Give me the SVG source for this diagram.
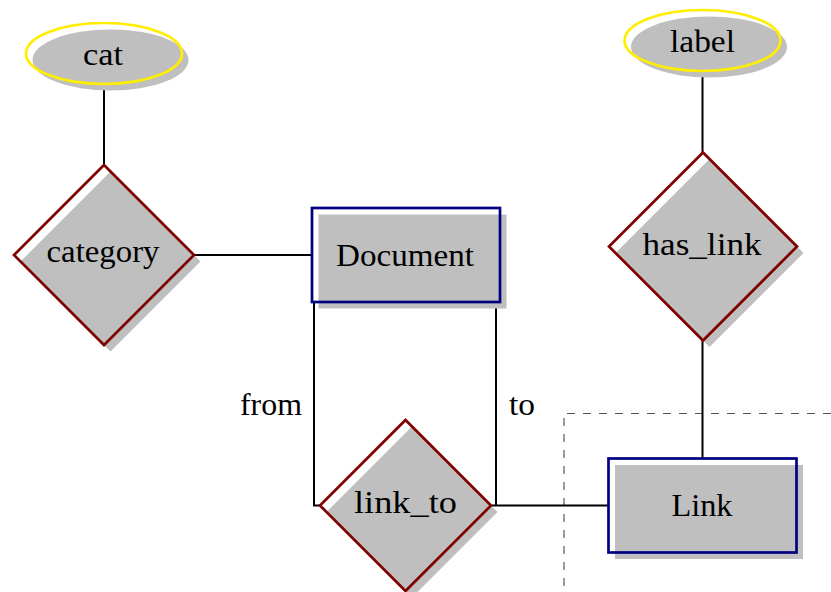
<svg xmlns="http://www.w3.org/2000/svg" width="831" height="592" viewBox="0 0 831 592">
  <style>
    .shadow { fill: #bfbfbf; stroke: none; }
    .attr { fill: none; stroke: #ffee00; stroke-width: 2.7; }
    .rel { fill: none; stroke: #800000; stroke-width: 2.7; stroke-linejoin: miter; }
    .ent { fill: none; stroke: #000080; stroke-width: 2.7; }
    .edge { fill: none; stroke: #000000; stroke-width: 2; }
    .frame { fill: none; stroke: #555555; stroke-width: 1.2; stroke-dasharray: 8 8; }
    text { font-family: "Liberation Serif", "Times New Roman", serif; font-size: 32px; fill: #000000; }
    .c { text-anchor: middle; }
  </style>
  <rect width="831" height="592" fill="#ffffff"/>

  <!-- dashed boundary around the Link entity -->
  <g id="boundary">
    <path class="frame" d="M564 413.5 H840" stroke-dashoffset="13"/>
    <path class="frame" d="M564 413.5 V600" stroke-dashoffset="11.5"/>
  </g>

  <!-- connectors -->
  <g id="edges">
    <line class="edge" x1="104" y1="84" x2="104" y2="165"/>
    <line class="edge" x1="194" y1="255" x2="312" y2="255"/>
    <line class="edge" x1="702.5" y1="71" x2="702.5" y2="153"/>
    <line class="edge" x1="702.5" y1="340" x2="702.5" y2="459"/>
    <polyline class="edge" points="314,302 314,505.5 320,505.5"/>
    <polyline class="edge" points="496,302 496,505.5"/>
    <line class="edge" x1="491" y1="505.5" x2="608.5" y2="505.5"/>
    <text x="271" y="415" class="c" textLength="62" lengthAdjust="spacingAndGlyphs">from</text>
    <text x="522" y="415" class="c" textLength="26" lengthAdjust="spacingAndGlyphs">to</text>
  </g>

  <!-- attribute: cat -->
  <g id="cat">
    <ellipse class="shadow" cx="110.5" cy="60" rx="78" ry="30.5"/>
    <ellipse class="attr" cx="104" cy="53.5" rx="78" ry="30.5"/>
    <text x="103" y="64.5" class="c" textLength="40" lengthAdjust="spacingAndGlyphs">cat</text>
  </g>

  <!-- relationship: category -->
  <g id="category">
    <polygon class="shadow" points="110.5,171.5 200.5,261.5 110.5,351.5 20.5,261.5"/>
    <polygon class="rel" points="104,165 194,255 104,345 14,255"/>
    <text x="103" y="262" class="c" textLength="113" lengthAdjust="spacingAndGlyphs">category</text>
  </g>

  <!-- entity: Document -->
  <g id="document">
    <rect class="shadow" x="318.5" y="214.5" width="188" height="94"/>
    <rect class="ent" x="312" y="208" width="188" height="94"/>
    <text x="405" y="266" class="c" textLength="138" lengthAdjust="spacingAndGlyphs">Document</text>
  </g>

  <!-- relationship: link_to -->
  <g id="link_to">
    <polygon class="shadow" points="412,426.5 497.5,512 412,597.5 326.5,512"/>
    <polygon class="rel" points="405.5,420 491,505.5 405.5,591 320,505.5"/>
    <text x="405.5" y="512.5" class="c" textLength="103" lengthAdjust="spacingAndGlyphs">link_to</text>
  </g>

  <!-- attribute: label -->
  <g id="label">
    <ellipse class="shadow" cx="709" cy="47" rx="78" ry="30.5"/>
    <ellipse class="attr" cx="702.5" cy="40.5" rx="78" ry="30.5"/>
    <text x="702.5" y="51.5" class="c" textLength="65" lengthAdjust="spacingAndGlyphs">label</text>
  </g>

  <!-- relationship: has_link -->
  <g id="has_link">
    <polygon class="shadow" points="709.5,159 803.5,253 709.5,347 615.5,253"/>
    <polygon class="rel" points="703,152.5 797,246.5 703,340.5 609,246.5"/>
    <text x="702" y="255" class="c" textLength="119" lengthAdjust="spacingAndGlyphs">has_link</text>
  </g>

  <!-- entity: Link -->
  <g id="link">
    <rect class="shadow" x="615" y="465" width="188" height="94"/>
    <rect class="ent" x="608.5" y="458.5" width="188" height="94"/>
    <text x="702" y="516" class="c" textLength="61" lengthAdjust="spacingAndGlyphs">Link</text>
  </g>
</svg>
